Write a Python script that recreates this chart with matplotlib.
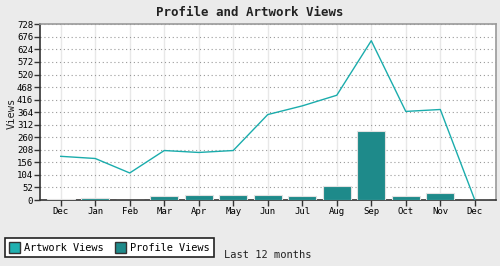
import matplotlib
matplotlib.use("Agg")
import matplotlib.pyplot as plt
from matplotlib.patches import Patch
import numpy as np

months = ["Dec", "Jan", "Feb", "Mar", "Apr", "May", "Jun", "Jul", "Aug", "Sep", "Oct", "Nov", "Dec"]
artwork_views = [181, 172, 112, 205, 197, 205, 354, 390, 434, 660, 367, 375, 0]
profile_views = [5, 9, 1, 18, 22, 22, 22, 18, 59, 287, 18, 28, 0]
yticks = [0, 52, 104, 156, 208, 260, 312, 364, 416, 468, 520, 572, 624, 676, 728]

plt.rcParams['font.family'] = ['DejaVu Sans Mono']

fig = plt.figure(figsize=(5, 2.66), dpi=100)
fig.patch.set_facecolor("#ebebeb")
ax = fig.add_axes([40/500, 66/266, 455.5/500, (200-24.3)/266])
ax.set_facecolor("white")

x = np.arange(len(months))
ax.bar(x, profile_views, width=0.8, color="#1e8a8a", edgecolor="#e2e2e2", linewidth=0.8, zorder=3)
ax.plot(x, artwork_views, color="#1aacac", linewidth=1, zorder=4)

ax.set_xlim(-0.6, 12.6)
ax.set_ylim(0, 728)
ax.set_yticks(yticks)
ax.set_xticks(x)
ax.set_xticklabels(months, fontsize=6.5)
ax.tick_params(axis='y', labelsize=6.5, length=4, width=1, color="#333333", pad=1)
ax.tick_params(axis='x', length=4, width=1, color="#333333", pad=1)

ax.grid(axis='x', color="#e8e8e8", linewidth=1, linestyle='-', zorder=0)
ax.grid(axis='y', color="#999999", linewidth=0.8, linestyle=(0, (1, 2.5)), zorder=0)
ax.set_axisbelow(True)

for s in ['left', 'bottom']:
    ax.spines[s].set_color("#333333")
    ax.spines[s].set_linewidth(1.2)
for s in ['top', 'right']:
    ax.spines[s].set_color("#9a9a9a")
    ax.spines[s].set_linewidth(1.2)

fig.text(0.5, (266-12)/266, "Profile and Artwork Views", ha='center', va='center',
         fontsize=9, fontweight='bold', color="#222222")
fig.text(12/500, (266-113)/266, "Views", rotation=90, ha='center', va='center', fontsize=7.5, color="#222222")
fig.text(224/500, 8/266, "Last 12 months", ha='left', va='baseline', fontsize=7.5, color="#222222")

handles = [Patch(facecolor="#20b0b0", edgecolor="#333333", label="Artwork Views"),
           Patch(facecolor="#1e8a8a", edgecolor="#333333", label="Profile Views")]
leg = fig.legend(handles=handles, loc='lower left', bbox_to_anchor=(5/500, 9.3/266), ncol=2,
                 fontsize=7.4, frameon=True, fancybox=False, edgecolor="#222222", framealpha=1,
                 borderaxespad=0, handlelength=1.1, handleheight=1.3, handletextpad=0.4,
                 columnspacing=1.1, borderpad=0.35)
leg.get_frame().set_linewidth(1.2)

fig.savefig("out.png", dpi=100, facecolor=fig.get_facecolor())
